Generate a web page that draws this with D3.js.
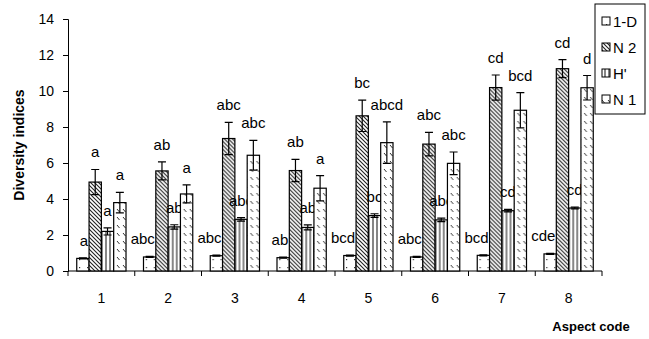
<!DOCTYPE html>
<html>
<head>
<meta charset="utf-8">
<script src="https://cdn.jsdelivr.net/npm/d3@7/dist/d3.min.js"></script>
<style>
  html, body { margin: 0; padding: 0; background: #fff; }
  svg { display: block; font-family: "Liberation Sans", Arial, sans-serif; }
</style>
</head>
<body>
<svg id="chart" width="649" height="339"></svg>
<script>
// Aspect codes on the x axis
const categories = ["1", "2", "3", "4", "5", "6", "7", "8"];
const seriesNames = ["1-D", "N 2", "H'", "N 1"];
const yTicks = [0, 2, 4, 6, 8, 10, 12, 14];

// Simpson (1-D)
const simpson    = [0.70, 0.78, 0.85, 0.74, 0.86, 0.78, 0.87, 0.95];
const simpsonErr = [0.03, 0.03, 0.03, 0.03, 0.03, 0.03, 0.03, 0.03];
const simpsonSig = ["a", "abc", "abc", "ab", "bcd", "abc", "bcd", "cde"];
// Hill N2
const n2    = [4.94, 5.56, 7.36, 5.58, 8.62, 7.05, 10.19, 11.24];
const n2Err = [0.70, 0.50, 0.90, 0.62, 0.87, 0.65, 0.70, 0.50];
const n2Sig = ["a", "ab", "abc", "ab", "bc", "abc", "cd", "cd"];
// Shannon H'
const shannon    = [2.20, 2.45, 2.87, 2.42, 3.08, 2.84, 3.35, 3.50];
const shannonErr = [0.20, 0.12, 0.10, 0.14, 0.10, 0.10, 0.07, 0.05];
const shannonSig = ["a", "ab", "abc", "ab", "bc", "abc", "cd", "cd"];
// Hill N1
const n1    = [3.80, 4.28, 6.43, 4.60, 7.13, 5.98, 8.93, 10.18];
const n1Err = [0.57, 0.50, 0.83, 0.70, 1.15, 0.63, 0.98, 0.68];
const n1Sig = ["a", "a", "abc", "a", "abcd", "abc", "bcd", "d"];

const seriesValues = [simpson, n2, shannon, n1];
const seriesErrors = [simpsonErr, n2Err, shannonErr, n1Err];
const seriesLetters = [simpsonSig, n2Sig, shannonSig, n1Sig];
const fills = ["url(#pDots)", "url(#pDiag)", "url(#pVert)", "url(#pDash)"];

const svg = d3.select("#chart");
const margin = { left: 68, right: 47, top: 19, bottom: 68 };
const W = 649, H = 339;

// Fill patterns
const defs = svg.append("defs");
const pDots = defs.append("pattern").attr("id", "pDots").attr("patternUnits", "userSpaceOnUse")
  .attr("width", 8).attr("height", 8);
pDots.append("rect").attr("width", 8).attr("height", 8).attr("fill", "#fff");
pDots.append("rect").attr("x", 3).attr("y", 3).attr("width", 1.2).attr("height", 1.2).attr("fill", "#333");

const pDiag = defs.append("pattern").attr("id", "pDiag").attr("patternUnits", "userSpaceOnUse")
  .attr("width", 4).attr("height", 4);
pDiag.append("rect").attr("width", 4).attr("height", 4).attr("fill", "#fff");
pDiag.append("path").attr("d", "M-1,-1 L5,5 M-1,3 L1,5 M3,-1 L5,1")
  .attr("stroke", "#222").attr("stroke-width", 1.1);

const pVert = defs.append("pattern").attr("id", "pVert").attr("patternUnits", "userSpaceOnUse")
  .attr("width", 4).attr("height", 4);
pVert.append("rect").attr("width", 4).attr("height", 4).attr("fill", "#fff");
pVert.append("path").attr("d", "M2,0 L2,4").attr("stroke", "#222").attr("stroke-width", 1.1);

const pDash = defs.append("pattern").attr("id", "pDash").attr("patternUnits", "userSpaceOnUse")
  .attr("width", 6).attr("height", 8);
pDash.append("rect").attr("width", 6).attr("height", 8).attr("fill", "#fff");
pDash.append("path").attr("d", "M1,1 L3.5,4").attr("stroke", "#333").attr("stroke-width", 1);

// Scales
const x0 = d3.scaleBand().domain(categories).range([margin.left, W - margin.right]).padding(0);
const x1 = d3.scaleBand().domain(seriesNames).range([0, x0.bandwidth()]).paddingInner(0).paddingOuter(0.71);
const y = d3.scaleLinear().domain([0, 14]).range([H - margin.bottom, margin.top]);

// Axes
const yAxis = d3.axisLeft(y).tickValues(yTicks).tickSize(5).tickPadding(9).tickFormat(d3.format("d"));
const gy = svg.append("g").attr("transform", `translate(${margin.left},0)`).call(yAxis);
gy.select(".domain").attr("stroke", "#000");
gy.selectAll(".tick line").attr("stroke", "#000");
gy.selectAll(".tick text").attr("font-size", 14).attr("fill", "#000")
  .attr("font-family", "Liberation Sans, Arial, sans-serif");

// x axis: ticks sit between the aspect groups
const boundaries = categories.map(c => x0(c)).concat([x0(categories[categories.length - 1]) + x0.bandwidth()]);
const gx = svg.append("g").attr("transform", `translate(0,${y(0)})`);
gx.append("line").attr("x1", margin.left).attr("x2", W - margin.right)
  .attr("stroke", "#000");
gx.selectAll("line.tk").data(boundaries).join("line").attr("class", "tk")
  .attr("x1", d => d).attr("x2", d => d).attr("y1", 0).attr("y2", 5).attr("stroke", "#000");
gx.selectAll("text").data(categories).join("text")
  .attr("x", d => x0(d) + x0.bandwidth() / 2).attr("y", 32)
  .attr("text-anchor", "middle").attr("font-size", 14).attr("fill", "#000").text(d => d);

// Bars
const groups = svg.append("g").selectAll("g").data(categories).join("g")
  .attr("transform", d => `translate(${x0(d)},0)`);

seriesNames.forEach((s, si) => {
  const bw = x1.bandwidth();
  groups.append("rect")
    .attr("x", x1(s))
    .attr("y", (d, i) => y(seriesValues[si][i]))
    .attr("width", bw)
    .attr("height", (d, i) => y(0) - y(seriesValues[si][i]))
    .attr("fill", fills[si])
    .attr("stroke", "#000").attr("stroke-width", 1.2);

  // error bars with caps at both ends
  const cx = x1(s) + bw / 2;
  const capW = 4;
  groups.append("path")
    .attr("d", (d, i) => {
      const v = seriesValues[si][i], e = seriesErrors[si][i];
      const yt = y(v + e), yb = y(v - e);
      return `M${cx},${yt} L${cx},${yb} M${cx - capW},${yt} L${cx + capW},${yt} M${cx - capW},${yb} L${cx + capW},${yb}`;
    })
    .attr("fill", "none").attr("stroke", "#000").attr("stroke-width", 1.2);

  // significance letters
  groups.append("text")
    .attr("x", si === 0 ? x1(s) + bw - 1 : cx)
    .attr("y", (d, i) => y(seriesValues[si][i] + seriesErrors[si][i]) - 12)
    .attr("text-anchor", si === 0 ? "end" : "middle")
    .attr("font-size", 15).attr("fill", "#000")
    .text((d, i) => seriesLetters[si][i]);
});

// Axis titles
svg.append("text").attr("transform", `translate(24,${(y(0) + y(14)) / 2}) rotate(-90)`)
  .attr("text-anchor", "middle").attr("font-size", 14).attr("font-weight", "bold")
  .text("Diversity indices");
svg.append("text").attr("x", 591).attr("y", 331).attr("text-anchor", "middle")
  .attr("font-size", 13).attr("font-weight", "bold").text("Aspect code");

// Legend
const lg = svg.append("g").attr("transform", "translate(595,4)");
lg.append("rect").attr("width", 50).attr("height", 110).attr("fill", "#fff")
  .attr("stroke", "#000").attr("stroke-width", 1);
seriesNames.forEach((s, si) => {
  const row = lg.append("g").attr("transform", `translate(0,${17 + si * 26})`);
  row.append("rect").attr("x", 7).attr("y", -4).attr("width", 8).attr("height", 8)
    .attr("fill", fills[si]).attr("stroke", "#000").attr("stroke-width", 1);
  row.append("text").attr("x", 18).attr("y", 5.5).attr("font-size", 15).text(s);
});
</script>
</body>
</html>
